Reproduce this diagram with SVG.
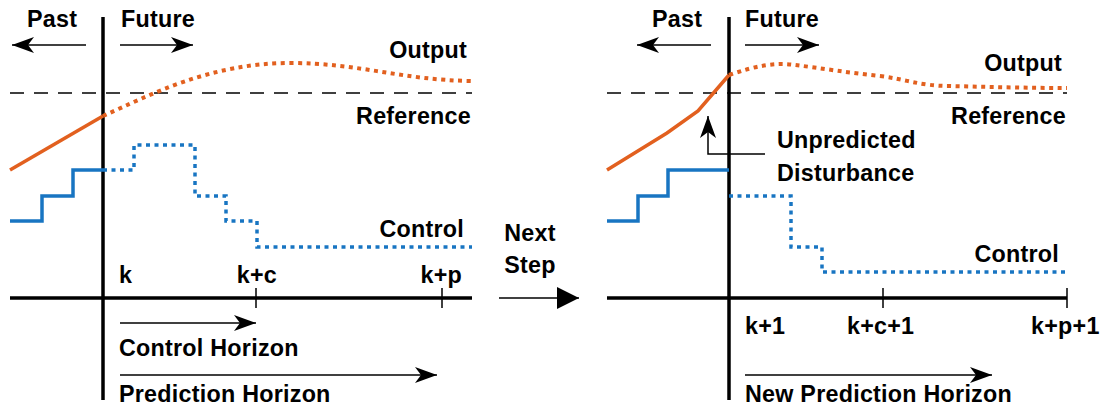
<svg xmlns="http://www.w3.org/2000/svg" width="1102" height="410" viewBox="0 0 1102 410">
<style>
text{font-family:"Liberation Sans",Arial,Helvetica,sans-serif;font-weight:bold;font-size:23.3px;letter-spacing:0.25px;fill:#000}
.r{text-anchor:end}
.m{text-anchor:middle}
.axis{stroke:#000;stroke-width:3.5;fill:none}
.thin{stroke:#000;stroke-width:1.5;fill:none}
.ref{stroke:#000;stroke-width:1.3;stroke-dasharray:14 10;fill:none}
.outS{stroke:#E2601F;stroke-width:3.5;fill:none}
.outD{stroke:#E2601F;stroke-width:4;stroke-dasharray:4 4.5;fill:none}
.ctlS{stroke:#1875C2;stroke-width:3.5;fill:none}
.ctlD{stroke:#1875C2;stroke-width:3.5;stroke-dasharray:4 4.5;fill:none}
.arr{stroke:#000;stroke-width:1.5;fill:none;marker-end:url(#stealth)}
</style>
<defs>
<marker id="stealth" markerUnits="userSpaceOnUse" markerWidth="26" markerHeight="20" refX="22" refY="8" orient="auto">
<path d="M22,8 L0,0 L6,8 L0,16 Z" fill="#000"/>
</marker>
<marker id="tri" markerUnits="userSpaceOnUse" markerWidth="24" markerHeight="24" refX="22" refY="11" orient="auto">
<path d="M0,0 L22,11 L0,22 Z" fill="#000"/>
</marker>
</defs>

<g id="left-panel">
<g id="left-axes">
<line class="axis" x1="103" y1="17" x2="103" y2="400"/>
<line class="axis" x1="10" y1="298" x2="472" y2="298"/>
<line class="thin" x1="256" y1="288" x2="256" y2="308"/>
<line class="thin" x1="442" y1="288" x2="442" y2="308"/>
<line class="ref" x1="10" y1="93" x2="472" y2="93"/>
</g>
<g id="left-output">
<line class="outS" x1="10" y1="170" x2="103" y2="116"/>
<path class="outD" d="M103,116 C150,95 210,63 290,63 C360,63 400,80 472,81"/>
</g>
<g id="left-control">
<path class="ctlS" d="M10,221 H42 V196 H73 V170 H103"/>
<path class="ctlD" d="M103,170 H134 V145 H195 V196 H226 V221 H257 V247 H472"/>
</g>
<g id="left-labels">
<text x="27" y="27">Past</text>
<text x="121" y="27">Future</text>
<text class="r" x="467" y="58">Output</text>
<text class="r" x="471" y="124">Reference</text>
<text class="r" x="464" y="237">Control</text>
<text x="119" y="283">k</text>
<text class="r" x="277" y="283">k+c</text>
<text class="r" x="462" y="283">k+p</text>
<text x="119" y="356">Control Horizon</text>
<text x="119" y="402">Prediction Horizon</text>
</g>
</g>

<g id="next-step">
<text class="m" x="530" y="241">Next</text>
<text class="m" x="530" y="273">Step</text>
</g>

<g id="right-panel">
<g id="right-axes">
<line class="axis" x1="729" y1="17" x2="729" y2="400"/>
<line class="axis" x1="607" y1="298" x2="1067" y2="298"/>
<line class="thin" x1="883" y1="288" x2="883" y2="308"/>
<line class="thin" x1="1067" y1="288" x2="1067" y2="308"/>
<line class="ref" x1="607" y1="93" x2="1067" y2="93"/>
</g>
<g id="right-output">
<polyline class="outS" points="607,170 667,133 698,111 729,75"/>
<path class="outD" d="M729,75 C755,66 775,62 795,65 C820,68 850,73 880,76 C905,79 920,86 950,86 C990,87 1030,88 1067,88"/>
</g>
<g id="right-control">
<path class="ctlS" d="M607,221 H638 V196 H668 V170 H729"/>
<path class="ctlD" d="M729,196 H791 V247 H822 V272 H1067"/>
</g>
<g id="right-labels">
<text x="652" y="27">Past</text>
<text x="745" y="27">Future</text>
<text class="r" x="1062" y="71">Output</text>
<text class="r" x="1066" y="124">Reference</text>
<text x="777" y="148">Unpredicted</text>
<text x="777" y="181">Disturbance</text>
<text class="r" x="1059" y="262">Control</text>
<text x="745" y="334">k+1</text>
<text x="847" y="334">k+c+1</text>
<text x="1031" y="334">k+p+1</text>
<text x="745" y="402">New Prediction Horizon</text>
</g>
</g>

<g id="connectors">
<line class="arr" x1="86" y1="45" x2="12" y2="45"/>
<line class="arr" x1="120" y1="45" x2="193" y2="45"/>
<line class="arr" x1="120" y1="323" x2="256" y2="323"/>
<line class="arr" x1="120" y1="375" x2="437" y2="375"/>
<line class="arr" x1="711" y1="45" x2="637" y2="45"/>
<line class="arr" x1="745" y1="45" x2="819" y2="45"/>
<line class="arr" x1="745" y1="375" x2="992" y2="375"/>
<polyline class="thin" points="765,154 708,154 708,116" style="marker-end:url(#stealth)"/>
<line x1="499" y1="298" x2="579" y2="298" stroke="#000" stroke-width="1.5" marker-end="url(#tri)"/>
</g>
</svg>
